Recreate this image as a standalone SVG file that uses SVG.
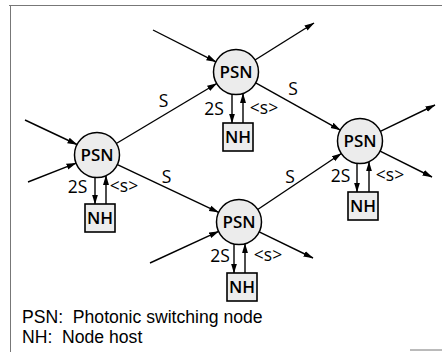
<svg xmlns="http://www.w3.org/2000/svg" width="442" height="352" viewBox="0 0 442 352">
<defs>
<marker id="ah" markerUnits="userSpaceOnUse" markerWidth="10" markerHeight="8" viewBox="0 0 10 8" refX="9.5" refY="4" orient="auto">
<path d="M0,1 L10,4 L0,7 Z" fill="#000"/>
</marker>
</defs>
<style>
.frame{stroke:#777;stroke-width:1;fill:none}
.psn circle{fill:#ececec;stroke:#000;stroke-width:1.5}
.nh rect{fill:#ededed;stroke:#000;stroke-width:1.6}
.lbl{font-family:"Open Sans","Liberation Sans",sans-serif;font-weight:600;font-size:17px;text-anchor:middle;fill:#000}
.el{font-family:"Open Sans","Liberation Sans",sans-serif;font-weight:500;font-size:17.5px;text-anchor:middle;fill:#000}
.leg{font-family:"Liberation Sans",Arial,sans-serif;font-size:17.6px;fill:#000}
#connectors line{stroke:#000;stroke-width:1.4;marker-end:url(#ah)}
</style>
<rect width="442" height="352" fill="#fff"/>
<g id="frame" class="frame">
<line x1="9" y1="5.5" x2="442" y2="5.5"/>
<line x1="10.5" y1="5" x2="10.5" y2="352"/>
<line x1="410" y1="350" x2="442" y2="350"/>
</g>
<g id="connectors">
<line x1="25" y1="120" x2="77" y2="144.5"/>
<line x1="28" y1="182" x2="76" y2="163.2"/>
<line x1="116.3" y1="143.5" x2="216.7" y2="83.5"/>
<line x1="117.4" y1="164.6" x2="218.6" y2="212.4"/>
<line x1="153" y1="30" x2="215.9" y2="61.8"/>
<line x1="255" y1="60" x2="314" y2="23"/>
<line x1="255.7" y1="82.9" x2="340.3" y2="130.1"/>
<line x1="150" y1="263" x2="218.6" y2="231.4"/>
<line x1="257.7" y1="209.5" x2="341.3" y2="153.5"/>
<line x1="259.2" y1="231.8" x2="313" y2="258"/>
<line x1="380.3" y1="131.3" x2="435" y2="105"/>
<line x1="380.1" y1="151.1" x2="432" y2="177"/>
<line x1="95" y1="177.4" x2="95" y2="204"/>
<line x1="106" y1="204" x2="106" y2="175.6"/>
<line x1="232" y1="94.3" x2="232" y2="123"/>
<line x1="243" y1="123" x2="243" y2="93.4"/>
<line x1="234" y1="244.3" x2="234" y2="273"/>
<line x1="245" y1="273" x2="245" y2="243.7"/>
<line x1="357" y1="163.4" x2="357" y2="192"/>
<line x1="369" y1="192" x2="369" y2="161.9"/>
</g>
<g id="edge-labels">
<text class="el" x="163.5" y="107">S</text>
<text class="el" x="166.5" y="183">S</text>
<text class="el" x="293" y="95">S</text>
<text class="el" x="290" y="183">S</text>
<text class="el" x="77.5" y="193">2S</text>
<text class="el" x="124" y="192">&lt;s&gt;</text>
<text class="el" x="214" y="115">2S</text>
<text class="el" x="264" y="114">&lt;s&gt;</text>
<text class="el" x="220" y="262">2S</text>
<text class="el" x="268" y="261">&lt;s&gt;</text>
<text class="el" x="340.5" y="182">2S</text>
<text class="el" x="390" y="181">&lt;s&gt;</text>
</g>
<g id="psn-left" class="psn"><circle cx="97" cy="155" r="22.5"/><text class="lbl" x="97" y="161">PSN</text></g>
<g id="psn-top" class="psn"><circle cx="236" cy="72" r="22.5"/><text class="lbl" x="236" y="78">PSN</text></g>
<g id="psn-bottom" class="psn"><circle cx="239" cy="222" r="22.5"/><text class="lbl" x="239" y="228">PSN</text></g>
<g id="psn-right" class="psn"><circle cx="360" cy="141" r="22.5"/><text class="lbl" x="360" y="147">PSN</text></g>
<g id="nh-left" class="nh"><rect x="85" y="204" width="30" height="28"/><text class="lbl" x="100" y="224">NH</text></g>
<g id="nh-top" class="nh"><rect x="223" y="123" width="30" height="28"/><text class="lbl" x="238" y="143">NH</text></g>
<g id="nh-bottom" class="nh"><rect x="227" y="273" width="30" height="28"/><text class="lbl" x="242" y="293">NH</text></g>
<g id="nh-right" class="nh"><rect x="348" y="192" width="30" height="28"/><text class="lbl" x="363" y="212">NH</text></g>
<g id="legend">
<text class="leg" x="22" y="322.5" xml:space="preserve">PSN:  Photonic switching node</text>
<text class="leg" x="22" y="342.5" xml:space="preserve">NH:  Node host</text>
</g>
</svg>
